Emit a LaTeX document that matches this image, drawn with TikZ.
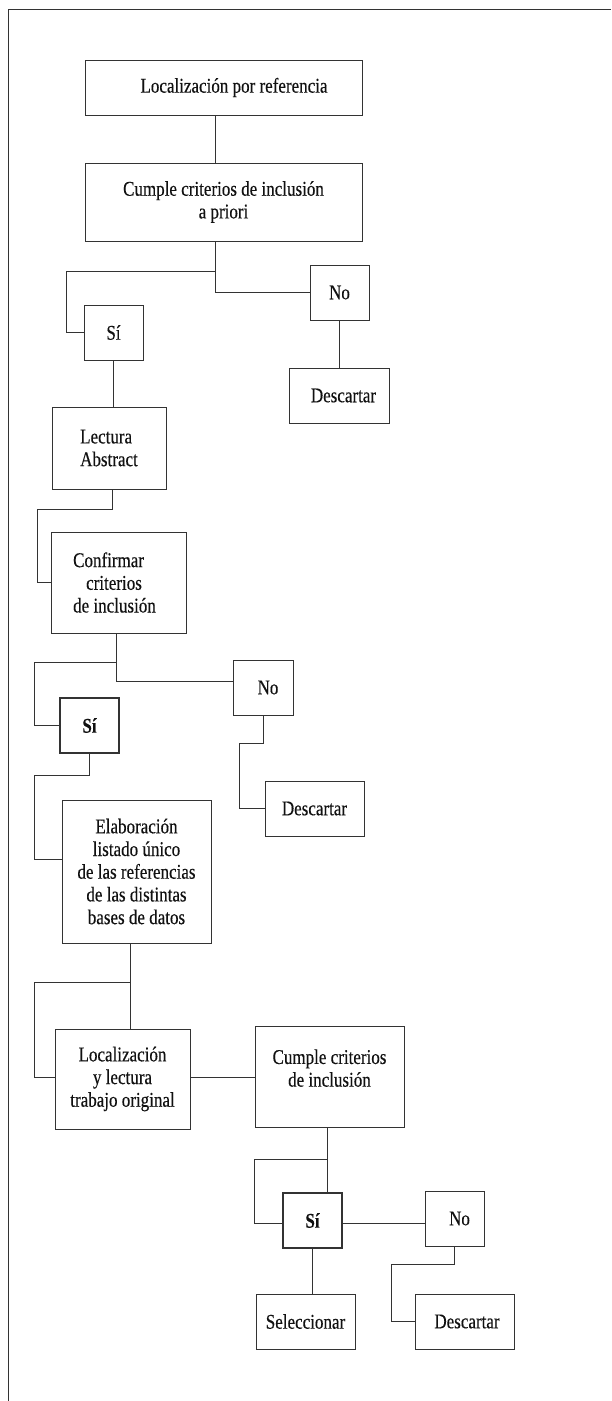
\documentclass[tikz,border=0pt]{standalone}
\usepackage{fontspec}
\setmainfont[FakeStretch=0.81,FakeBold=0.3]{Liberation Serif}
\definecolor{linec}{HTML}{333333}
\definecolor{txt}{HTML}{111111}
\tikzset{
  box/.style={draw=linec, line width=0.9pt, rectangle, inner sep=0pt, text=txt,
    font=\fontsize{21}{22.7}\selectfont},
  boldbox/.style={box, line width=1.5pt, font=\fontsize{21}{22.7}\selectfont\bfseries},
  conn/.style={draw=linec, line width=0.9pt},
  frameline/.style={draw=linec, line width=1pt}
}
\begin{document}
\begin{tikzpicture}[x=1pt,y=-1pt]
\useasboundingbox (0,0) rectangle (611,1401);
\draw[frameline] (8,1401) -- (8,9) -- (611,9);

\node[box, minimum width=277pt, minimum height=55pt] (c1) at (223.5,87.5) {\hspace*{21pt}Localización por referencia};
\node[box, align=center, minimum width=277pt, minimum height=78pt] (c2) at (223.5,202) {Cumple criterios de inclusión\\a priori};
\node[box, minimum width=59pt, minimum height=55pt] (no1) at (339.5,292.5) {No};
\node[box, minimum width=59pt, minimum height=55pt] (si1) at (113.5,332.5) {Sí\hspace{3pt}};
\node[box, minimum width=100pt, minimum height=55pt] (d1) at (339,395.5) {\hspace{9pt}Descartar};
\node[box, align=left, minimum width=114pt, minimum height=82pt] (lec) at (109,448) {Lectura\\Abstract};
\node[box, align=left, minimum width=135pt, minimum height=101pt] (conf) at (118.5,582.5) {Confirmar\\\hspace*{13pt}criterios\\de inclusión\hspace*{8pt}};
\node[box, minimum width=60pt, minimum height=55pt] (no2) at (263,687.5) {\hspace{10pt}No};
\node[boldbox, minimum width=59pt, minimum height=55pt] (si2) at (89.5,725.5) {Sí\hspace{3pt}};
\node[box, minimum width=99pt, minimum height=55pt] (d2) at (314.5,808.5) {Descartar};
\node[box, align=center, minimum width=149pt, minimum height=143pt] (elab) at (136.5,871.5) {Elaboración\\listado único\\de las referencias\\de las distintas\\bases de datos};
\node[box, align=center, minimum width=135pt, minimum height=100pt] (loc) at (122.5,1079) {Localización\\y lectura\\trabajo original};
\node[box, align=center, minimum width=149pt, minimum height=101pt] (cum) at (329.5,1076.5) {Cumple criterios\\de inclusión\rule[-17pt]{0pt}{17pt}};
\node[boldbox, minimum width=59pt, minimum height=55pt] (si3) at (312.5,1220.5) {Sí\hspace{7pt}};
\node[box, minimum width=59pt, minimum height=55pt] (no3) at (454.5,1218.5) {\hspace{10pt}No};
\node[box, minimum width=99pt, minimum height=55pt] (sel) at (305.5,1321.5) {Seleccionar};
\node[box, minimum width=99pt, minimum height=55pt] (d3) at (464.5,1321.5) {\hspace{5pt}Descartar};

\draw[conn] ([xshift=-8.5pt]c1.south) -- ([xshift=-8.5pt]c2.north);
\coordinate (j2) at (215,271);
\draw[conn] ([xshift=-8.5pt]c2.south) |- (no1.west);
\draw[conn] (j2) -- (66,271) |- (si1.west);
\draw[conn] (no1.south) -- (no1.south |- d1.north);
\draw[conn] (si1.south) -- (si1.south |- lec.north);
\draw[conn] ([xshift=3pt]lec.south) |- (37,509) |- (conf.west);
\draw[conn] ([xshift=-2.5pt]conf.south) |- ([yshift=6.5pt]no2.west);
\coordinate (j8) at (116,662);
\draw[conn] (j8) -- (34,662) |- (si2.west);
\draw[conn] (no2.south) |- (239,743) |- (d2.west);
\draw[conn] (si2.south) |- (34,775) |- ([yshift=12.5pt]elab.west);
\draw[conn] ([xshift=-6.5pt]elab.south) -- ([xshift=-6.5pt]elab.south |- loc.north);
\coordinate (j11) at (130,982);
\draw[conn] (j11) -- (34,982) |- ([yshift=2pt]loc.west);
\draw[conn] ([yshift=2pt]loc.east) -- ([yshift=2pt]loc.east -| cum.west);
\draw[conn] ([xshift=-2.5pt]cum.south) -- ([xshift=-2.5pt]cum.south |- si3.north);
\coordinate (j13) at (327,1159);
\draw[conn] (j13) -- (254,1159) |- ([yshift=-2.5pt]si3.west);
\draw[conn] ([yshift=-2.5pt]si3.east) -- ([yshift=-2.5pt]si3.east -| no3.west);
\draw[conn] (no3.south) |- (391,1264) |- (d3.west);
\draw[conn] (si3.south) -- (si3.south |- sel.north);
\end{tikzpicture}
\end{document}
